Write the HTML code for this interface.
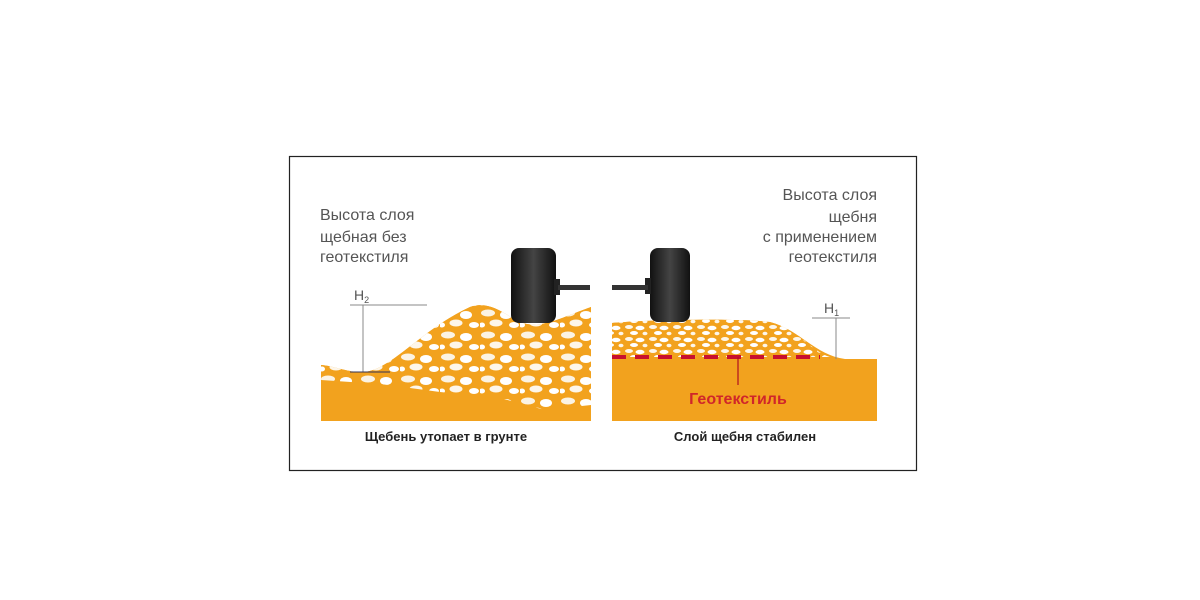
<!DOCTYPE html>
<html><head><meta charset="utf-8"><style>
html,body{margin:0;padding:0;background:#fff;}
svg{display:block;}
text{font-family:"Liberation Sans",sans-serif;}
</style></head><body>
<svg width="1200" height="600" viewBox="0 0 1200 600" xmlns="http://www.w3.org/2000/svg">
<defs>
<pattern id="stones" width="40" height="22" patternUnits="userSpaceOnUse">
<rect width="40" height="22" fill="#f2a21e"/>
<ellipse cx="8" cy="5" rx="7" ry="3.5" fill="#fbf3e4"/>
<ellipse cx="26" cy="7" rx="6" ry="4" fill="#fff"/>
<ellipse cx="16" cy="15" rx="6.5" ry="3.5" fill="#fdf6ea"/>
<ellipse cx="34" cy="17" rx="5" ry="3" fill="#fff"/>
<ellipse cx="2" cy="17" rx="3" ry="2.5" fill="#fff"/>
</pattern>
<pattern id="stones2" width="24" height="12" patternUnits="userSpaceOnUse">
<rect width="24" height="12" fill="#f2a21e"/>
<ellipse cx="5" cy="3" rx="4" ry="2" fill="#fdf6ea"/>
<ellipse cx="16" cy="4" rx="4.5" ry="2.2" fill="#fff"/>
<ellipse cx="10" cy="9" rx="4" ry="2" fill="#fff"/>
<ellipse cx="21" cy="9.5" rx="2.5" ry="1.8" fill="#fdf6ea"/>
</pattern>
<linearGradient id="tire" x1="0" x2="1">
<stop offset="0" stop-color="#111"/><stop offset="0.5" stop-color="#444"/><stop offset="1" stop-color="#111"/>
</linearGradient>
</defs>
<rect x="289.5" y="156.5" width="627" height="314" fill="#fff" stroke="#222" stroke-width="1.2"/>

<!-- left -->
<path d="M321,365 C335,366 345,372 362,372 C390,372 420,330 470,307 C490,300 505,315 520,322 C540,330 560,318 591,307 L591,421 L321,421 Z" fill="#f2a21e"/>
<path d="M321,365 C335,366 345,372 362,372 C390,372 420,330 470,307 C490,300 505,315 520,322 C540,330 560,318 591,307 L591,405 L545,410 L500,398 L440,392 L380,384 L321,380 Z" fill="url(#stones)"/>
<line x1="350" y1="305" x2="427" y2="305" stroke="#888" stroke-width="1"/>
<line x1="363" y1="305" x2="363" y2="372" stroke="#888" stroke-width="1"/>
<line x1="350" y1="372" x2="390" y2="372" stroke="#335" stroke-width="1"/>
<text x="354" y="300" font-size="14" fill="#555">H<tspan font-size="9" dy="3">2</tspan></text>
<rect x="511" y="248" width="45" height="75" rx="8" fill="url(#tire)"/>
<rect x="554" y="279" width="6" height="16" fill="#222"/>
<rect x="558" y="285" width="32" height="5" fill="#333"/>

<!-- right -->
<path d="M612,323 C640,320 740,318 770,322 C800,330 815,355 845,359 L877,359 L877,421 L612,421 Z" fill="#f2a21e"/>
<path d="M612,323 C640,320 740,318 770,322 C800,330 812,352 830,357 L612,357 Z" fill="url(#stones2)"/>
<line x1="612" y1="357" x2="820" y2="357" stroke="#c8102e" stroke-width="4" stroke-dasharray="14,9"/>
<line x1="738" y1="357" x2="738" y2="385" stroke="#b01020" stroke-width="1.2"/>
<text x="738" y="404" font-size="16" font-weight="bold" fill="#d0262a" text-anchor="middle">Геотекстиль</text>
<line x1="812" y1="318" x2="850" y2="318" stroke="#888"/>
<line x1="836" y1="318" x2="836" y2="359" stroke="#888"/>
<text x="824" y="313" font-size="14" fill="#555">H<tspan font-size="9" dy="3">1</tspan></text>
<rect x="650" y="248" width="40" height="74" rx="8" fill="url(#tire)"/>
<rect x="645" y="278" width="6" height="16" fill="#222"/>
<rect x="612" y="285" width="36" height="5" fill="#333"/>

<!-- labels -->
<g font-size="16" fill="#555">
<text x="320" y="220">Высота слоя</text>
<text x="320" y="242">щебная без</text>
<text x="320" y="262">геотекстиля</text>
<text x="877" y="200" text-anchor="end">Высота слоя</text>
<text x="877" y="222" text-anchor="end">щебня</text>
<text x="877" y="242" text-anchor="end">с применением</text>
<text x="877" y="262" text-anchor="end">геотекстиля</text>
</g>
<text x="446" y="441" font-size="13" font-weight="bold" fill="#222" text-anchor="middle">Щебень утопает в грунте</text>
<text x="745" y="441" font-size="13" font-weight="bold" fill="#222" text-anchor="middle">Слой щебня стабилен</text>
</svg>
</body></html>
